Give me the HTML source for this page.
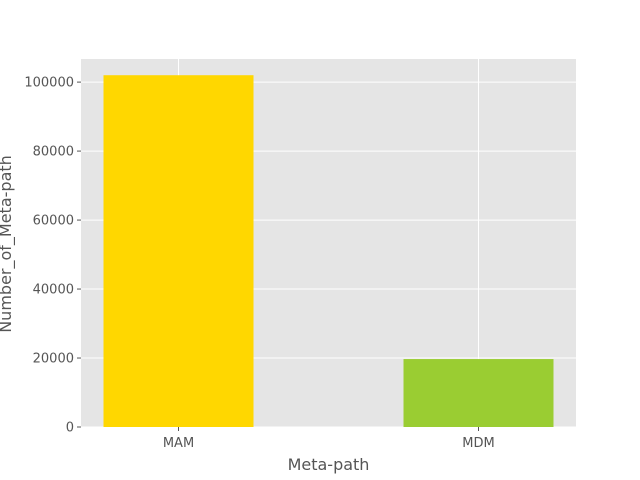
<!DOCTYPE html>
<html><head><meta charset="utf-8"><style>
body{margin:0;background:#fff}
svg{display:block;font-family:"DejaVu Sans","Liberation Sans",sans-serif}
</style></head><body>
<svg id="chart" width="640" height="480"></svg>
<script>
const categories=["MAM","MDM"];
const values=[102000,19700];
const colors=["#FFD700","#9ACD32"];
const yTicks=[0,20000,40000,60000,80000,100000];
const NS="http://www.w3.org/2000/svg";
const svg=document.getElementById('chart');
const L=81,R=576,T=59,B=427;
const xMin=-0.325,xMax=1.325,yMax=106700;
const xs=v=>L+(v-xMin)/(xMax-xMin)*(R-L);
const ys=v=>B-v/yMax*(B-T);
function mk(tag,attrs,parent){const e=document.createElementNS(NS,tag);for(const k in attrs)e.setAttribute(k,attrs[k]);(parent||svg).appendChild(e);return e;}
const bg=mk('rect',{x:L,y:T,width:R-L,height:B-T,fill:'#E5E5E5'});


yTicks.forEach(t=>{
  const g=mk('line',{x1:L,x2:R,y1:ys(t),y2:ys(t),stroke:'#fff','stroke-width':1});
  
  
  const tk=mk('line',{x1:L-4,x2:L,y1:ys(t),y2:ys(t),stroke:'#555'});
  
  
  const tx=mk('text',{x:L-7,y:ys(t)+4.5,'text-anchor':'end','font-size':13,fill:'#555'});
  tx.textContent=t;
  
  
});
categories.forEach((c,i)=>{
  const g=mk('line',{x1:xs(i),x2:xs(i),y1:T,y2:B,stroke:'#fff','stroke-width':1});
  
  
});
categories.forEach((c,i)=>{
  const r=mk('rect',{x:xs(i-0.25),y:ys(values[i]),width:xs(i+0.25)-xs(i-0.25),height:B-ys(values[i]),fill:colors[i]});
  
  
  const tk=mk('line',{x1:xs(i),x2:xs(i),y1:B,y2:B+4,stroke:'#555'});
  
  
  const tx=mk('text',{x:xs(i),y:B+20,'text-anchor':'middle','font-size':13,fill:'#555'});
  tx.textContent=c;
  
  
});
const xl=mk('text',{x:(L+R)/2,y:470,'text-anchor':'middle','font-size':16,fill:'#555'});
xl.textContent='Meta-path';


const yl=mk('text',{x:0,y:0,'text-anchor':'middle','font-size':16,fill:'#555',transform:'translate(11,244) rotate(-90)'});
yl.textContent='Number_of_Meta-path';


</script>
</body></html>
